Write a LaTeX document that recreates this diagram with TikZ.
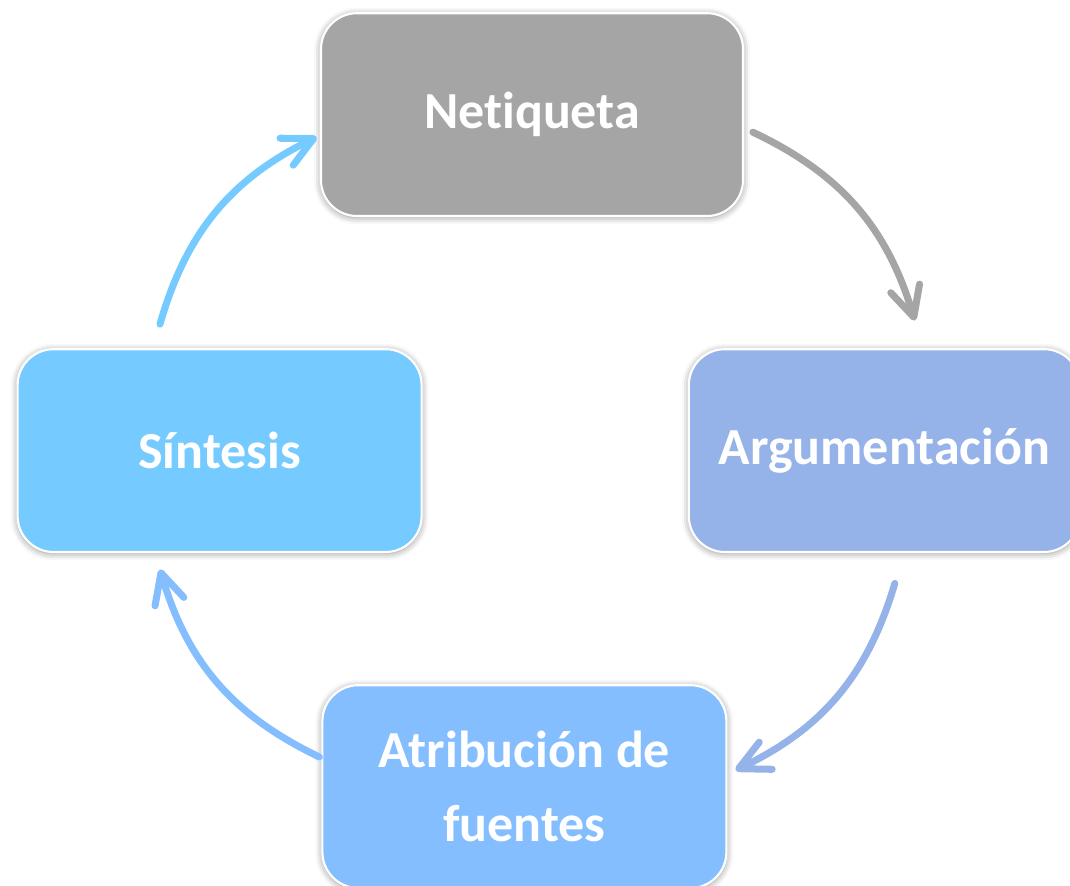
\documentclass[tikz,border=0pt]{standalone}
\usepackage{fontspec}
\setmainfont{Carlito}[Ligatures={NoCommon}]
\usetikzlibrary{arrows.meta,shadows.blur}
\definecolor{netgray}{HTML}{A5A5A5}
\definecolor{sinblue}{HTML}{75CAFF}
\definecolor{argblue}{HTML}{95B3E8}
\definecolor{atrblue}{HTML}{85BEFF}
\begin{document}
\begin{tikzpicture}[>={Straight Barb[length=7.5mm, width=7.5mm, round]},
	caja/.style={rectangle, rounded corners=0.9cm, draw=white, line width=1.5pt, text=white, font=\bfseries\fontsize{37}{53}\selectfont, align=center, minimum width=10.1cm, minimum height=5.07cm, blur shadow={shadow xshift=0pt, shadow yshift=-1pt, shadow blur radius=5pt, shadow opacity=45}},
	flecha/.style={->, line width=5pt, line cap=round, bend left=24}]
	\useasboundingbox (0,0) rectangle (26.75,22.125);
	\node[caja, fill=netgray, minimum width=10.55cm] (net) at (13.3,19.26) {Netiqueta};
	\node[caja, fill=sinblue] (sin) at (5.49,10.86) {Síntesis};
	\node[caja, fill=argblue, minimum width=9.78cm] (arg) at (22.11,10.86) {Argumentación};
	\node[caja, fill=atrblue] (atr) at (13.11,2.46) {Atribución de\\fuentes};
	\draw[flecha, netgray] ([shift={(0.22,-0.44)}]net.east) to ([shift={(0.76,0.69)}]arg.north);
	\draw[flecha, argblue] ([shift={(0.26,-0.76)}]arg.south) to ([shift={(0.2,0.41)}]atr.east);
	\draw[flecha, atrblue] ([shift={(-0.05,0.74)}]atr.west) to ([shift={(-1.49,-0.41)}]sin.south);
	\draw[flecha, sinblue] ([shift={(-1.49,0.6)}]sin.north) to ([shift={(-0.08,-0.56)}]net.west);
\end{tikzpicture}
\end{document}
